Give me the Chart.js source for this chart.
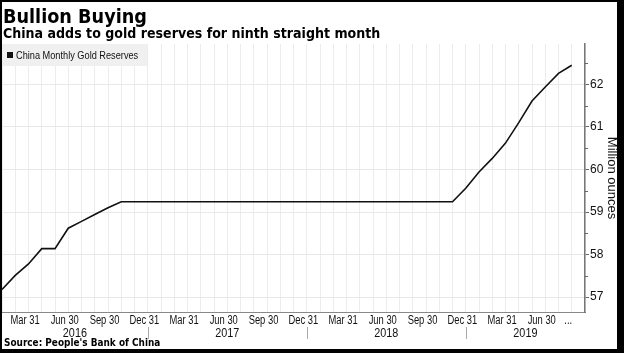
<!DOCTYPE html>
<html>
<head>
<meta charset="utf-8">
<script src="https://cdn.jsdelivr.net/npm/chart.js@4.4.1/dist/chart.umd.min.js"></script>
<style>
  html, body { margin: 0; padding: 0; background: #fff; }
  #wrap { width: 624px; height: 353px; }
</style>
</head>
<body>
<div id="wrap"><canvas id="goldChart" width="624" height="353"></canvas></div>
<script>
// China monthly gold reserves, million ounces (Jan 2016 - Aug 2019)
const reserves2016 = [57.18, 57.51, 57.78, 58.14, 58.14, 58.62, 58.78, 58.94, 59.10, 59.24, 59.24, 59.24];
const reserves2017 = [59.24, 59.24, 59.24, 59.24, 59.24, 59.24, 59.24, 59.24, 59.24, 59.24, 59.24, 59.24];
const reserves2018 = [59.24, 59.24, 59.24, 59.24, 59.24, 59.24, 59.24, 59.24, 59.24, 59.24, 59.24, 59.56];
const reserves2019 = [59.94, 60.26, 60.62, 61.10, 61.61, 61.94, 62.26, 62.45];
const reserves = [...reserves2016, ...reserves2017, ...reserves2018, ...reserves2019];

const years = ['2016', '2017', '2018', '2019'];
const monthNames = ['Jan', 'Feb', 'Mar', 'Apr', 'May', 'Jun', 'Jul', 'Aug', 'Sep', 'Oct', 'Nov', 'Dec'];
const quarterEnds = { Mar: 'Mar 31', Jun: 'Jun 30', Sep: 'Sep 30', Dec: 'Dec 31' };
const yTicks = [57, 58, 59, 60, 61, 62];

// the axis runs one month past the last reading
const months = years.flatMap(y => monthNames.map(m => m + ' ' + y)).slice(0, reserves.length + 1);

const sans = "'Liberation Sans', Arial, sans-serif";
const heavy = "'DejaVu Sans', Verdana, sans-serif";

// text squeezed sideways, the source uses condensed faces
function squeezed(ctx, text, x, y, sx) {
  ctx.save();
  ctx.translate(x, y);
  ctx.scale(sx, 1);
  ctx.fillText(text, 0, 0);
  ctx.restore();
}

const decor = {
  id: 'decor',
  beforeDraw(chart) {
    const ctx = chart.ctx;
    ctx.save();
    ctx.fillStyle = '#fff';
    ctx.fillRect(0, 0, chart.width, chart.height);
    ctx.restore();
  },
  afterDraw(chart) {
    const { ctx, chartArea: a, scales: { x, y } } = chart;
    ctx.save();

    // minor ticks on the value axis
    ctx.strokeStyle = '#666';
    ctx.lineWidth = 1;
    for (let v = 57.5; v < 63; v += 1) {
      const py = Math.round(y.getPixelForValue(v)) + 0.5;
      ctx.beginPath();
      ctx.moveTo(a.right, py);
      ctx.lineTo(a.right + 3, py);
      ctx.stroke();
    }

    // quarter labels under the month grid
    ctx.fillStyle = '#111';
    ctx.font = '12.5px ' + sans;
    ctx.textAlign = 'center';
    ctx.textBaseline = 'alphabetic';
    x.ticks.forEach((t, i) => {
      if (t.label) squeezed(ctx, t.label, x.getPixelForTick(i) - 3.5, 323.5, 0.75);
    });

    // year separators and year labels
    const edges = [a.left];
    years.forEach(yr => {
      const idx = months.indexOf('Dec ' + yr);
      if (idx >= 0) edges.push(x.getPixelForValue(idx));
    });
    edges.push(a.right);
    ctx.strokeStyle = '#aaa';
    for (let i = 1; i < edges.length - 1; i++) {
      const px = Math.round(edges[i]) + 0.5;
      ctx.beginPath();
      ctx.moveTo(px, 327);
      ctx.lineTo(px, 339);
      ctx.stroke();
    }
    ctx.font = '12px ' + sans;
    years.forEach((yr, i) => squeezed(ctx, yr, (edges[i] + edges[i + 1]) / 2, 337, 0.9));

    // axis title
    ctx.save();
    ctx.translate(612, 178);
    ctx.rotate(Math.PI / 2);
    ctx.font = '13px ' + sans;
    ctx.textBaseline = 'middle';
    ctx.fillText('Million ounces', 0, 0);
    ctx.restore();

    // legend
    ctx.fillStyle = '#f0f0f0';
    ctx.fillRect(3, 44, 144, 22);
    ctx.fillStyle = '#111';
    ctx.fillRect(7, 52, 6, 6);
    ctx.font = '11.5px ' + sans;
    ctx.textAlign = 'left';
    ctx.textBaseline = 'middle';
    squeezed(ctx, 'China Monthly Gold Reserves', 16, 55.5, 0.8);

    // titles and source
    ctx.fillStyle = '#000';
    ctx.textBaseline = 'alphabetic';
    ctx.font = 'bold 19px ' + heavy;
    squeezed(ctx, 'Bullion Buying', 3, 23, 0.93);
    ctx.font = 'bold 13.6px ' + heavy;
    squeezed(ctx, 'China adds to gold reserves for ninth straight month', 3, 38, 0.93);
    ctx.font = 'bold 9.6px ' + heavy;
    squeezed(ctx, "Source: People's Bank of China", 4, 346, 0.93);

    // frame
    ctx.fillStyle = '#000';
    ctx.fillRect(0, 0, chart.width, 2);
    ctx.fillRect(0, 0, 2, chart.height);
    ctx.fillRect(617, 0, 7, chart.height);
    ctx.fillRect(0, 349, chart.width, 4);
    ctx.restore();
  }
};

new Chart(document.getElementById('goldChart'), {
  type: 'line',
  data: {
    labels: months,
    datasets: [{
      label: 'China Monthly Gold Reserves',
      data: reserves,
      borderColor: '#111',
      borderWidth: 1.6,
      pointRadius: 0,
      tension: 0,
      fill: false
    }]
  },
  options: {
    responsive: false,
    animation: false,
    layout: { padding: { left: 2, top: 44, right: 0, bottom: 0 } },
    plugins: { legend: { display: false }, tooltip: { enabled: false } },
    scales: {
      x: {
        offset: false,
        grid: { color: '#ececec', drawTicks: false },
        border: { color: '#888', width: 1 },
        ticks: {
          display: false,
          autoSkip: false,
          maxRotation: 0,
          callback: function (value, index) {
            if (index === reserves.length - 1) return '...';
            if (index >= reserves.length) return '';
            return quarterEnds[months[index].slice(0, 3)] || '';
          }
        },
        afterFit: s => { s.height = 41; }
      },
      y: {
        position: 'right',
        min: 56.65,
        max: 62.95,
        afterBuildTicks: s => { s.ticks = yTicks.map(v => ({ value: v })); },
        grid: { color: '#e8e8e8', tickLength: 4, tickColor: '#666' },
        border: { color: '#777', width: 1.5 },
        ticks: { padding: 1, color: '#111', font: { family: sans, size: 12 } },
        afterFit: s => { s.width = 39; }
      }
    }
  },
  plugins: [decor]
});
</script>
</body>
</html>
